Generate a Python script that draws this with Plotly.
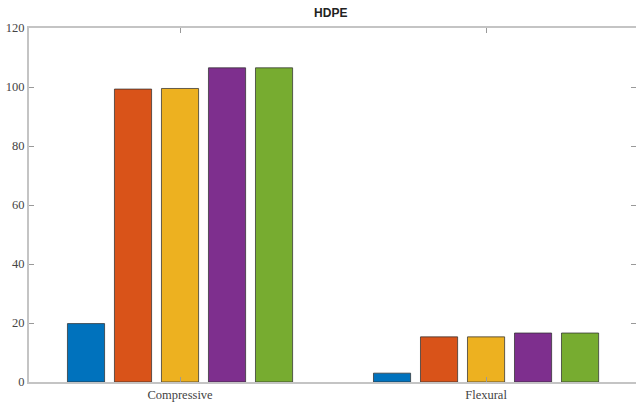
import plotly.graph_objects as go

categories = ["Compressive", "Flexural"]
series_names = ["Series 1", "Series 2", "Series 3", "Series 4", "Series 5"]
values = [
    [19.8, 3.0],
    [99.3, 15.3],
    [99.5, 15.3],
    [106.5, 16.6],
    [106.5, 16.6],
]
colors = ["#0072BD", "#D95319", "#EDB120", "#7E2F8E", "#77AC30"]
y_ticks = [0, 20, 40, 60, 80, 100, 120]

fig = go.Figure()
for name, vals, col in zip(series_names, values, colors):
    fig.add_trace(go.Bar(
        x=categories, y=vals, name=name,
        marker=dict(color=col, line=dict(color="rgba(50,50,50,0.75)", width=1)),
    ))

axis_line = "#c4c4c4"
fig.update_layout(
    width=636, height=403,
    margin=dict(l=29, r=0, t=28, b=21),
    paper_bgcolor="white", plot_bgcolor="white",
    barmode="group", bargap=0.232, bargroupgap=0.21,
    showlegend=False,
    title=dict(text="<b>HDPE</b>", x=0.52, xanchor="center", y=0.968, yanchor="middle",
               font=dict(family="Liberation Sans, Arial", size=12, color="#222")),
)
fig.update_xaxes(
    range=[-0.4935, 1.490], showgrid=False, zeroline=False,
    showline=True, linecolor=axis_line, linewidth=2, mirror="ticks",
    ticks="inside", ticklen=5, tickcolor="#999", tickwidth=1,
    tickfont=dict(family="Liberation Serif, DejaVu Serif", size=12.5, color="#444"),
    automargin=False,
)
fig.update_yaxes(
    range=[0, 120], tickvals=y_ticks, showgrid=False, zeroline=False,
    showline=True, linecolor=axis_line, linewidth=2, mirror="ticks",
    ticks="inside", ticklen=5, tickcolor="#999", tickwidth=1,
    tickfont=dict(family="Liberation Serif, DejaVu Serif", size=12.5, color="#444"),
    automargin=False,
)
fig.write_html("out.html", config={"displayModeBar": False},
               post_script="document.body.style.margin='0';document.body.style.overflow='hidden';")
